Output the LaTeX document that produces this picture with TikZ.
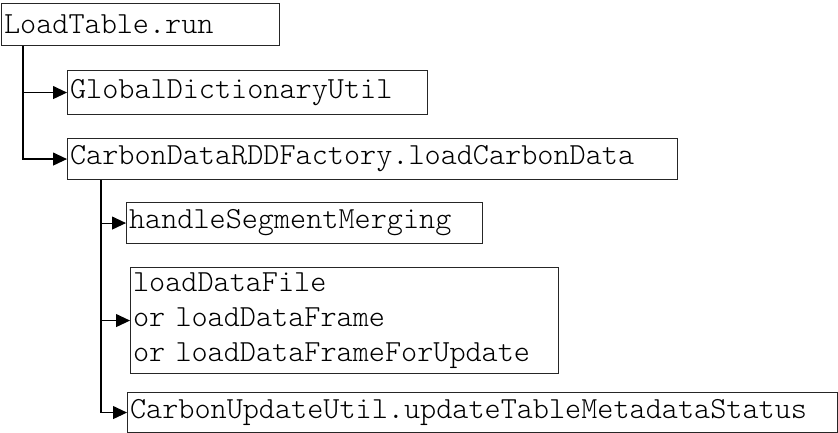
\documentclass[tikz,border=0pt]{standalone}
\usepackage{fontspec}
\setmonofont{Latin Modern Mono Light}
\usetikzlibrary{arrows.meta}
\begin{document}
\begin{tikzpicture}[x=1pt,y=-1pt,
  box/.style={draw=black!85, line width=1.1pt, anchor=north west, align=left,
    inner xsep=2.5pt, inner ysep=0pt,
    font=\fontsize{30.7}{35}\selectfont\ttfamily},
  arr/.style={draw=black, line width=1.1pt, -{Triangle[length=14pt,width=13pt]}}]
\useasboundingbox (0,0) rectangle (838,433);
\node[box, text width=273pt, minimum height=42pt] (b1) at (1,3) {LoadTable.run};
\node[box, text width=355pt, minimum height=44pt] (b2) at (67,70) {GlobalDictionaryUtil};
\node[box, text width=605pt, minimum height=41pt] (b3) at (67,138) {CarbonDataRDDFactory.loadCarbonData};
\node[box, text width=351pt, minimum height=41pt] (b4) at (126,202) {handleSegmentMerging};
\node[box, text width=423pt, minimum height=106pt] (b5) at (130,267) {loadDataFile\\or loadDataFrame\\or loadDataFrameForUpdate};
\node[box, text width=705pt, minimum height=40pt] (b6) at (127,392) {CarbonUpdateUtil.updateTableMetadataStatus};
\draw[arr] ([xshift=22pt]b1.south west) |- (b2.west);
\draw[arr] ([xshift=22pt]b1.south west) |- (b3.west);
\draw[arr] ([xshift=34pt]b3.south west) |- (b4.west);
\draw[arr] ([xshift=34pt]b3.south west) |- (b5.west);
\draw[arr] ([xshift=34pt]b3.south west) |- (b6.west);
\end{tikzpicture}
\end{document}
